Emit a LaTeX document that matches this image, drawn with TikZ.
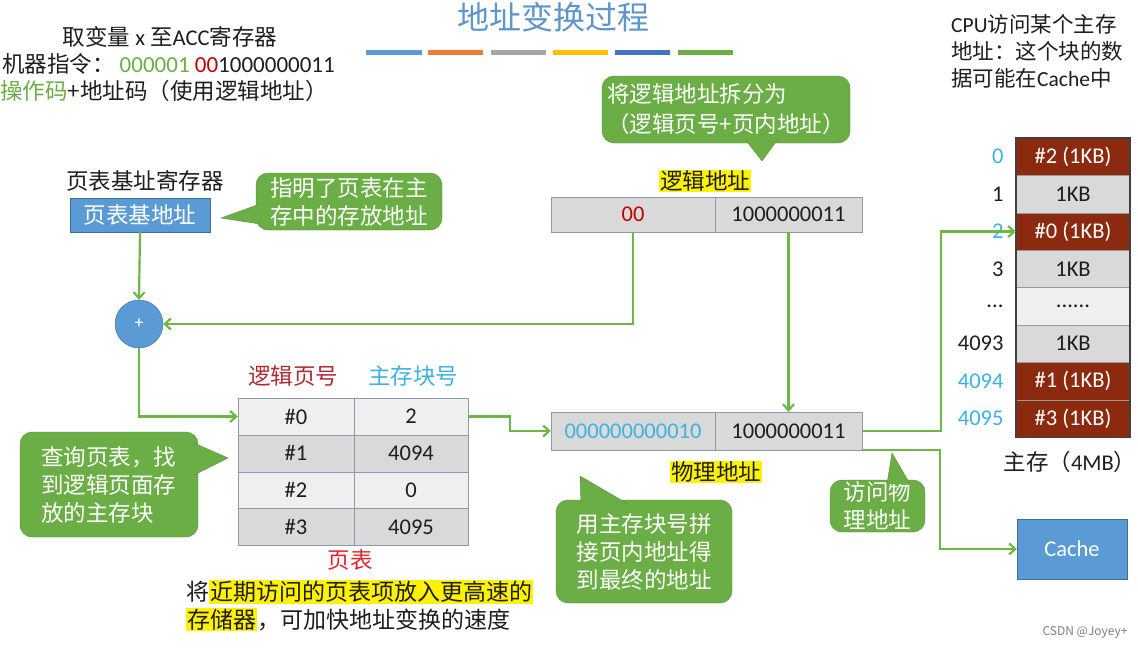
\documentclass[tikz,border=0pt]{standalone}
\usepackage{fontspec}
\setmainfont{Noto Sans CJK SC}
\newfontfamily\lat{Carlito}
\usetikzlibrary{arrows.meta,positioning}

\definecolor{titleblue}{HTML}{5E95CC}
\definecolor{boxblue}{HTML}{5B9BD5}
\definecolor{bubblegreen}{HTML}{6AAE45}
\definecolor{bubbleedge}{HTML}{55913A}
\definecolor{linegreen}{HTML}{6DB844}
\definecolor{txtred}{HTML}{C00000}
\definecolor{hdrred}{HTML}{B02A30}
\definecolor{tabred}{HTML}{E4242B}
\definecolor{txtcyan}{HTML}{3DB3E3}
\definecolor{brick}{HTML}{8C2A0F}
\definecolor{cellgray}{HTML}{D9D9D9}
\definecolor{celllight}{HTML}{EFEFEF}
\definecolor{celledge}{HTML}{8E9AA8}
\definecolor{darktext}{HTML}{1E1E1E}
\definecolor{barorange}{HTML}{ED7D31}
\definecolor{bargray}{HTML}{A5A5A5}
\definecolor{bargold}{HTML}{FFC000}
\definecolor{bardark}{HTML}{4472C4}
\setlength{\fboxsep}{1pt}

\begin{document}
\begin{tikzpicture}[x=1pt, y=-1pt, >={Straight Barb[length=6pt,width=11pt]},
  every node/.style={text=darktext, font=\fontsize{22.5}{27}\selectfont},
  flow/.style={draw=linegreen, line width=2.2pt},
  bluebox/.style={draw=boxblue!70!black, fill=boxblue, text=white, inner sep=0pt},
  bubble/.style={fill=bubblegreen, draw=bubbleedge, rounded corners=12pt, text=white,
    align=left, inner sep=0pt, font=\fontsize{22.5}{28}\selectfont},
  tail/.style={fill=bubblegreen, draw=bubbleedge},
  cell/.style={draw=celledge, fill=cellgray, inner sep=0pt, font=\lat\fontsize{22.5}{26}\selectfont},
  memcell/.style={cell, minimum width=114pt, minimum height=37.4pt, draw=gray!80},
  redcell/.style={memcell, fill=brick, text=white},
  memlabel/.style={anchor=east, font=\lat\fontsize{22.5}{26}\selectfont},
  hilite/.style={fill=yellow, inner sep=1pt}]

  \useasboundingbox[fill=white] (0,0) rectangle (1138,648);

  % title and bars
  \node[text=titleblue, font=\fontsize{32}{36}\selectfont] (title) at (553,17) {地址变换过程};
  \draw[line width=5pt, boxblue] (366,52) -- (422,52);
  \draw[line width=5pt, barorange] (428,52) -- (483,52);
  \draw[line width=5pt, bargray] (491,52) -- (546,52);
  \draw[line width=5pt, bargold] (553,52) -- (608,52);
  \draw[line width=5pt, bardark] (615,52) -- (670,52);
  \draw[line width=5pt, bubblegreen] (678,52) -- (733,52);

  % instruction
  \node (instr1) at (170,37) {取变量 {\lat x} 至{\lat ACC}寄存器};
  \node[anchor=west, inner sep=0pt] (instr2) at (2,64) {机器指令：
    {\lat\fontsize{23}{26}\selectfont\textcolor{bubblegreen}{000001} \textcolor{txtred}{00}1000000011}};
  \node[anchor=west, inner sep=0pt] (instr3) at (0,91) {\textcolor{bubblegreen}{操作码}+地址码（使用逻辑地址）};

  % cpu note
  \node[anchor=north west, align=left, inner sep=0pt, font=\fontsize{21.5}{27}\selectfont] (cpunote) at (951,14)
    {{\lat CPU}访问某个主存\\地址：这个块的数\\据可能在{\lat Cache}中};

  % page table register
  \node (reglabel) at (145,181) {页表基址寄存器};
  \node[bluebox, minimum width=140pt, minimum height=34pt] (basebox) at (140,215) {页表基地址};
  \node[circle, bluebox, minimum size=48pt, font=\lat\fontsize{18}{20}\selectfont] (plus) at (139,324) {+};

  % logical address
  \node[hilite] (lalabel) at (705,181) {逻辑地址};
  \node[cell, minimum width=164pt, minimum height=35pt, text=txtred] (lapage) at (633,214.5) {00};
  \node[cell, minimum width=147pt, minimum height=35pt] (laoff) at (788.5,214.5) {1000000011};

  % page table
  \node[text=hdrred] (hdrpage) at (293,376) {逻辑页号};
  \node[text=txtcyan] (hdrblock) at (413,376) {主存块号};
  \node[cell, fill=celllight, minimum width=116pt, minimum height=36.8pt] (pt00) at (296,416.5) {\#0};
  \node[cell, fill=celllight, minimum width=114pt, minimum height=36.8pt] (pt01) at (411,416.5) {2};
  \node[cell, minimum width=116pt, minimum height=36.8pt] (pt10) at (296,453.3) {\#1};
  \node[cell, minimum width=114pt, minimum height=36.8pt] (pt11) at (411,453.3) {4094};
  \node[cell, fill=celllight, minimum width=116pt, minimum height=36.8pt] (pt20) at (296,490.1) {\#2};
  \node[cell, fill=celllight, minimum width=114pt, minimum height=36.8pt] (pt21) at (411,490.1) {0};
  \node[cell, minimum width=116pt, minimum height=36.8pt] (pt30) at (296,526.9) {\#3};
  \node[cell, minimum width=114pt, minimum height=36.8pt] (pt31) at (411,526.9) {4095};
  \node[text=tabred] (ptlabel) at (350,560) {页表};

  % physical address
  \node[cell, minimum width=164pt, minimum height=38pt, text=txtcyan] (pablock) at (633,431) {000000000010};
  \node[cell, minimum width=147pt, minimum height=38pt] (paoff) at (788.5,431) {1000000011};
  \node[hilite] (palabel) at (716,472) {物理地址};

  % main memory
  \node[redcell] (m0) at (1073,156.7) {\#2 (1KB)};
  \node[memcell] (m1) at (1073,194.1) {1KB};
  \node[redcell] (m2) at (1073,231.5) {\#0 (1KB)};
  \node[memcell] (m3) at (1073,268.9) {1KB};
  \node[memcell, fill=celllight] (m4) at (1073,306.3) {......};
  \node[memcell] (m5) at (1073,343.7) {1KB};
  \node[redcell] (m6) at (1073,381.1) {\#1 (1KB)};
  \node[redcell] (m7) at (1073,418.5) {\#3 (1KB)};
  \draw[gray!50!black, line width=1.5pt] (m0.north west) rectangle (m7.south east);
  \node[memlabel, text=txtcyan] (l0) at (1007,156.7) {0};
  \node[memlabel] (l1) at (1007,194.1) {1};
  \node[memlabel, text=txtcyan] (l2) at (1007,231.5) {2};
  \node[memlabel] (l3) at (1007,268.9) {3};
  \node[memlabel] (l4) at (1007,306.3) {...};
  \node[memlabel] (l5) at (1007,343.7) {4093};
  \node[memlabel, text=txtcyan] (l6) at (1007,381.1) {4094};
  \node[memlabel, text=txtcyan] (l7) at (1007,418.5) {4095};
  \node (memname) at (1070,462) {主存（{\lat 4MB}）};
  \node[bluebox, minimum width=110pt, minimum height=60pt, font=\lat\fontsize{22.5}{26}\selectfont] (cache) at (1072,549) {Cache};

  % connectors
  \draw[flow, ->] (basebox.south) -- (plus.north);
  \draw[flow, ->] (lapage.south) |- (plus.east);
  \draw[flow, ->] (laoff.south) -- (paoff.north);
  \draw[flow, ->] (plus.south) |- (pt00.west);
  \draw[flow, ->] (pt01.east) -- ++(42,0) |- (pablock.west);
  \draw[flow, ->] (paoff.east) -- ++(79,0) |- (m2.west);
  \draw[flow, ->] (paoff.south east) -- ++(78,0) |- (cache.west);

  % bubbles
  \coordinate (tip1) at (221,218);
  \node[bubble, minimum width=186pt, minimum height=57pt] (note1) at (349,201.5) {指明了页表在主\\存中的存放地址};
  \filldraw[tail] (260,204) -- (tip1) -- (260,224);

  \coordinate (tip2) at (762,161);
  \node[bubble, minimum width=248pt, minimum height=67pt, font=\fontsize{22.5}{30}\selectfont] (note2) at (726,109.5) {将逻辑地址拆分为\\（逻辑页号+页内地址）};
  \filldraw[tail] (745,139) -- (tip2) -- (778,139);

  \coordinate (tip3) at (228,458);
  \node[bubble, minimum width=178pt, minimum height=105pt] (note3) at (109,484.5) {查询页表，找\\到逻辑页面存\\放的主存块};
  \filldraw[tail] (194,443) -- (tip3) -- (194,475);

  \coordinate (tip4) at (580,476);
  \node[bubble, minimum width=176pt, minimum height=103pt] (note4) at (644,551.5) {用主存块号拼\\接页内地址得\\到最终的地址};
  \filldraw[tail] (581,504) -- (tip4) -- (628,504);

  \coordinate (tip5) at (892,453);
  \node[bubble, minimum width=95pt, minimum height=52pt] (note5) at (877.5,506) {访问物\\理地址};
  \filldraw[tail] (887,484) -- (tip5) -- (910,484);

  % hint
  \node[anchor=north west, align=left, inner sep=0pt, font=\fontsize{23}{28}\selectfont] (hint) at (186,580)
    {将\colorbox{yellow}{近期访问的页表项放入更高速的}\\\colorbox{yellow}{存储器}，可加快地址变换的速度};

  \node[text=gray, font=\fontsize{12}{14}\selectfont] (watermark) at (1085,632) {CSDN @Joyey+};
\end{tikzpicture}
\end{document}
